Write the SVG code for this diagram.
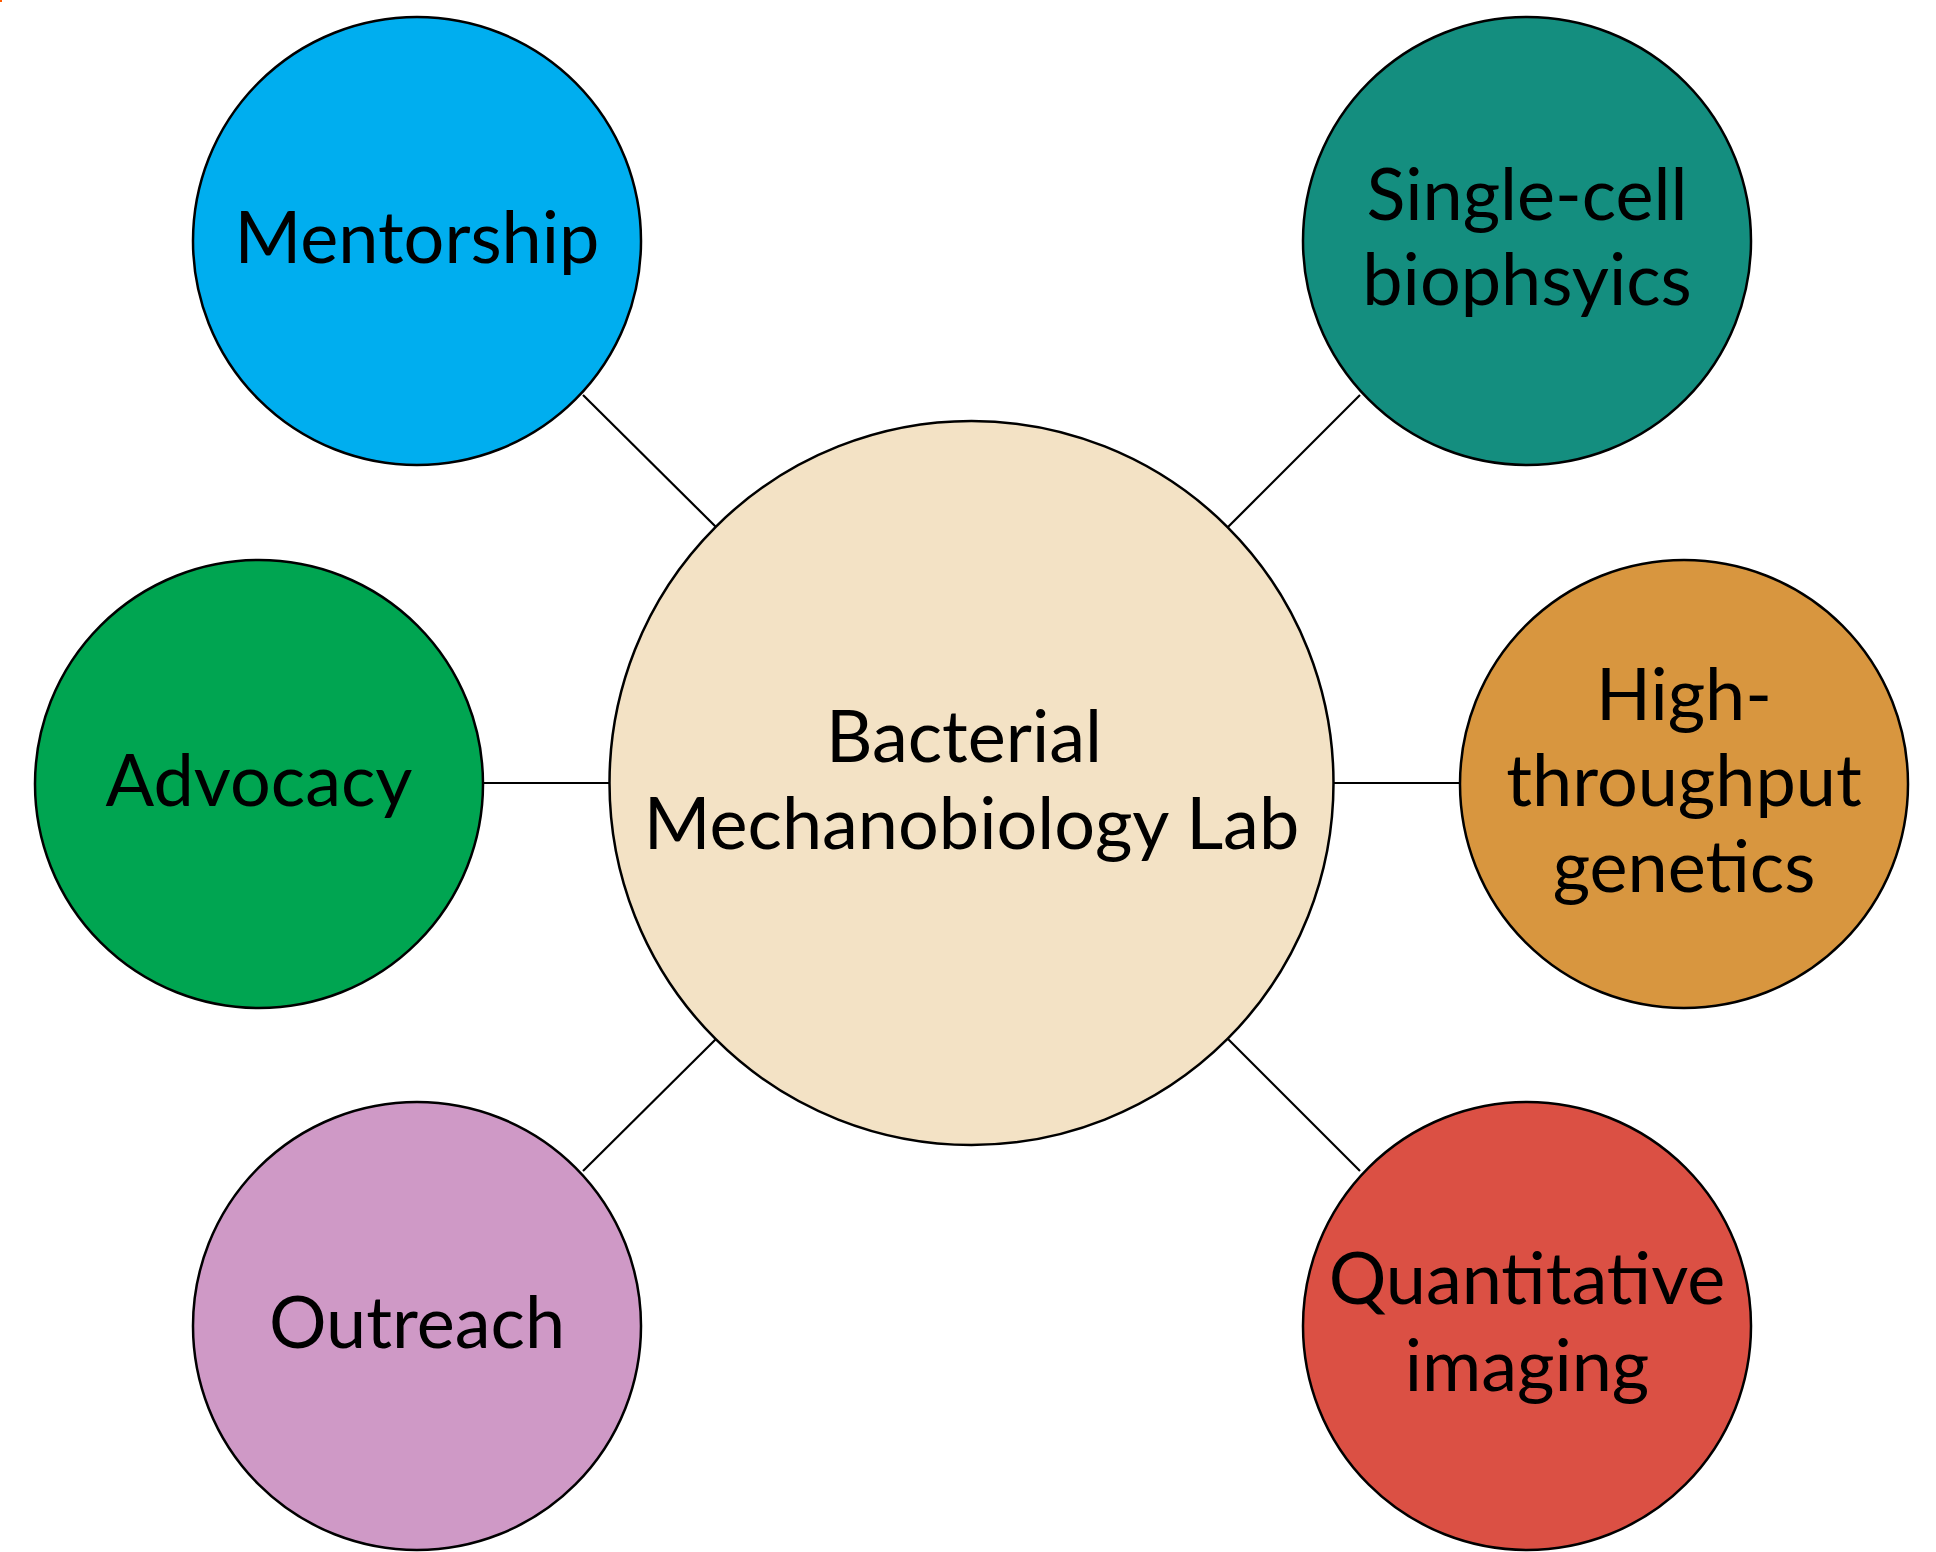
<svg xmlns="http://www.w3.org/2000/svg" width="1936" height="1552" viewBox="0 0 1936 1552">
<style>
.n{stroke:#000;stroke-width:2.5}
.t{font-family:Lato,"Liberation Sans",sans-serif;font-size:72px;fill:#000;text-anchor:middle}
.c line{stroke:#000;stroke-width:2.2}
</style>
<rect width="1936" height="1552" fill="#fff"/>
<rect x="0" y="0" width="2" height="2" fill="#FF5A00"/>
<g class="c" id="connectors">
<line x1="583" y1="395" x2="716" y2="527"/>
<line x1="1360" y1="395" x2="1228" y2="527"/>
<line x1="483" y1="783" x2="609" y2="783"/>
<line x1="1334" y1="783" x2="1460" y2="783"/>
<line x1="583" y1="1171" x2="716" y2="1039"/>
<line x1="1360" y1="1171" x2="1228" y2="1039"/>
</g>
<g id="center">
<circle class="n" cx="971.5" cy="783" r="362" fill="#F3E2C5"/>
<text class="t" x="964" y="762">Bacterial</text>
<text class="t" x="971.5" y="849">Mechanobiology Lab</text>
</g>
<g id="mentorship">
<circle class="n" cx="417" cy="241" r="224" fill="#00AEEF"/>
<text class="t" x="417" y="263">Mentorship</text>
</g>
<g id="single-cell">
<circle class="n" cx="1527" cy="241" r="224" fill="#148E7F"/>
<text class="t" x="1527" y="220">Single-cell</text>
<text class="t" x="1527" y="305">biophsyics</text>
</g>
<g id="advocacy">
<circle class="n" cx="259" cy="784" r="224" fill="#00A551"/>
<text class="t" x="259" y="806">Advocacy</text>
</g>
<g id="high-throughput">
<circle class="n" cx="1684" cy="784" r="224" fill="#D8963F"/>
<text class="t" x="1684" y="720">High-</text>
<text class="t" x="1684" y="806">throughput</text>
<text class="t" x="1684" y="892">genetics</text>
</g>
<g id="outreach">
<circle class="n" cx="417" cy="1326" r="224" fill="#CF99C6"/>
<text class="t" x="417" y="1348">Outreach</text>
</g>
<g id="quantitative">
<circle class="n" cx="1527" cy="1326" r="224" fill="#DB5044"/>
<text class="t" x="1527" y="1304">Quantitative</text>
<text class="t" x="1527" y="1391">imaging</text>
</g>
</svg>
